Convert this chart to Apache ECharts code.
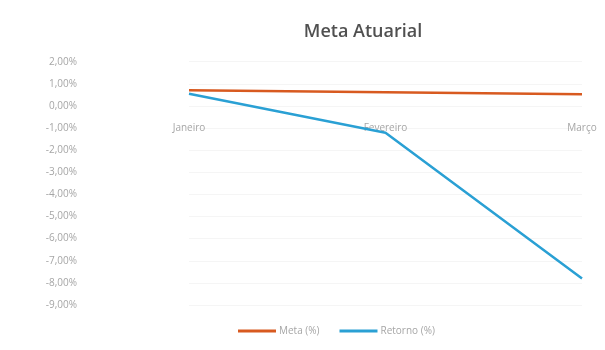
<!DOCTYPE html>
<html><head><meta charset="utf-8">
<script src="https://cdn.jsdelivr.net/npm/echarts@6/dist/echarts.min.js"></script>
<style>html,body{margin:0;padding:0;background:#fff}#c{width:605px;height:350px}</style>
</head><body><div id="c"></div>
<script>
const categories = ['Janeiro', 'Fevereiro', 'Março'];
const metaValues = [0.71, 0.62, 0.53];
const retornoValues = [0.55, -1.21, -7.8];
const seriesNames = ['Meta (%)', 'Retorno (%)'];
const chartTitle = 'Meta Atuarial';

const chart = echarts.init(document.getElementById('c'));
chart.setOption({
  animation: false,
  backgroundColor: '#fff',
  title: {
    text: chartTitle, left: 358, top: 18, textAlign: 'center',
    textStyle: { fontFamily: 'Open Sans', fontSize: 18, fontWeight: 600, color: '#505050' }
  },
  legend: {
    left: 233, top: 321, itemWidth: 38, itemHeight: 3, itemGap: 20, icon: 'rect',
    textStyle: { fontFamily: 'Open Sans', fontSize: 10, color: '#a6a6a6', padding: [0,0,0,-2] },
    data: seriesNames
  },
  grid: { left: 189, right: 23, top: 61.7, bottom: 45, containLabel: false },
  xAxis: {
    type: 'category', data: categories, boundaryGap: false, offset: -199,
    axisLine: { show: false, onZero: false }, axisTick: { show: false },
    axisLabel: { margin: 17, fontFamily: 'Open Sans', fontSize: 10, color: '#a6a6a6' },
    splitLine: { show: false }
  },
  yAxis: {
    type: 'value', min: -9, max: 2, interval: 1,
    axisLine: { show: false }, axisTick: { show: false },
    axisLabel: {
      margin: 112, fontFamily: 'Open Sans', fontSize: 10, color: '#a6a6a6',
      formatter: v => v.toFixed(2).replace('.', ',') + '%'
    },
    splitLine: { show: true, lineStyle: { color: '#f5f5f5', width: 1 } }
  },
  series: [
    { name: seriesNames[0], type: 'line', data: metaValues, showSymbol: false, symbol: 'none',
      lineStyle: { color: '#d85a20', width: 2.5 }, itemStyle: { color: '#d85a20' } },
    { name: seriesNames[1], type: 'line', data: retornoValues, showSymbol: false, symbol: 'none',
      lineStyle: { color: '#2aa0d4', width: 2.5 }, itemStyle: { color: '#2aa0d4' } }
  ]
});
</script></body></html>
